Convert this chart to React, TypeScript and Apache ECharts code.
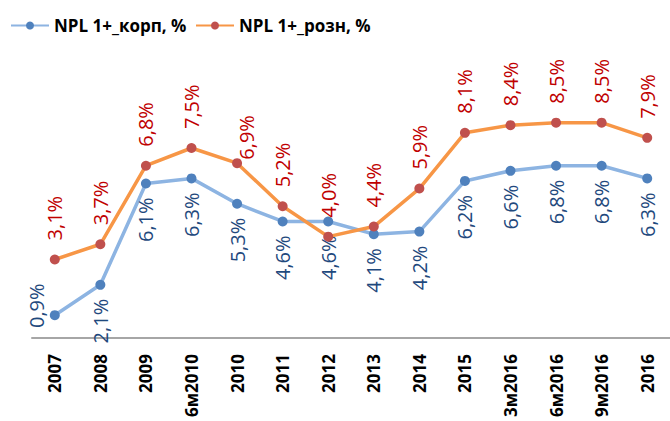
import React, { useEffect, useRef } from "react";
import * as echarts from "echarts";

const categories = ["2007", "2008", "2009", "6м2010", "2010", "2011", "2012", "2013", "2014", "2015", "3м2016", "6м2016", "9м2016", "2016"];
const corpValues = [0.9, 2.1, 6.1, 6.3, 5.3, 4.6, 4.6, 4.1, 4.2, 6.2, 6.6, 6.8, 6.8, 6.3];
const retailValues = [3.1, 3.7, 6.8, 7.5, 6.9, 5.2, 4.0, 4.4, 5.9, 8.1, 8.4, 8.5, 8.5, 7.9];
const corpName = "NPL 1+_корп, %";
const retailName = "NPL 1+_розн, %";

const fmt = (v: number) => v.toFixed(1).replace(".", ",") + "%";
const labelFont = "'Open Sans', 'Noto Sans', sans-serif";

export default function App() {
  const ref = useRef<HTMLDivElement>(null);
  useEffect(() => {
    if (!ref.current) return;
    const chart = echarts.init(ref.current, undefined, { renderer: "svg" });
    const corpData = corpValues.map((v, i) => {
      if (i === 0) {
        return {
          value: v,
          label: { position: [-13.5, -4.5], align: "center", verticalAlign: "middle" },
        };
      }
      return { value: v };
    });
    const retailData = retailValues.map((v, i) => {
      if (i === 4) {
        return {
          value: v,
          label: { position: [14.5, 1.5], align: "left", verticalAlign: "middle" },
        };
      }
      return { value: v };
    });
    const legendText = { fontSize: 17, fontWeight: "bold", color: "#000", fontFamily: labelFont };
    chart.setOption({
      animation: false,
      backgroundColor: "#ffffff",
      legend: [
        {
          data: [corpName],
          left: 10,
          top: 17,
          padding: 0,
          itemWidth: 38,
          itemHeight: 10,
          itemGap: 4,
          textStyle: legendText,
        },
        {
          data: [retailName],
          left: 195,
          top: 17,
          padding: 0,
          itemWidth: 38,
          itemHeight: 10,
          itemGap: 4,
          textStyle: legendText,
        },
      ],
      grid: { left: 32, right: -7, top: 34, bottom: 83, containLabel: false },
      xAxis: {
        type: "category",
        data: categories,
        boundaryGap: true,
        axisLine: { lineStyle: { color: "#A6A6A6", width: 2 } },
        axisTick: { show: false },
        axisLabel: {
          rotate: 90,
          interval: 0,
          margin: 16,
          fontSize: 17,
          fontWeight: "bold",
          color: "#000",
          fontFamily: labelFont,
        },
      },
      yAxis: { type: "value", min: 0, max: 12, show: false, splitLine: { show: false } },
      series: [
        {
          name: corpName,
          type: "line",
          data: corpData,
          symbol: "circle",
          symbolSize: 10,
          itemStyle: { color: "#4F81BD" },
          lineStyle: { color: "#8DB4E2", width: 3.5 },
          label: {
            show: true,
            position: "bottom",
            distance: 9,
            rotate: 90,
            align: "right",
            verticalAlign: "middle",
            formatter: (p: any) => fmt(p.value),
            fontSize: 20,
            color: "#1F497D",
            fontFamily: labelFont,
          },
          z: 2,
        },
        {
          name: retailName,
          type: "line",
          data: retailData,
          symbol: "circle",
          symbolSize: 10,
          itemStyle: { color: "#C0504D" },
          lineStyle: { color: "#F79646", width: 3.5 },
          label: {
            show: true,
            position: "top",
            distance: 14,
            rotate: 90,
            align: "left",
            verticalAlign: "middle",
            formatter: (p: any) => fmt(p.value),
            fontSize: 20,
            color: "#C00000",
            fontFamily: labelFont,
          },
          z: 3,
        },
      ],
    });
    return () => chart.dispose();
  }, []);
  return <div ref={ref} style={{ width: 670, height: 421, position: "absolute", left: 0, top: 0 }} />;
}
